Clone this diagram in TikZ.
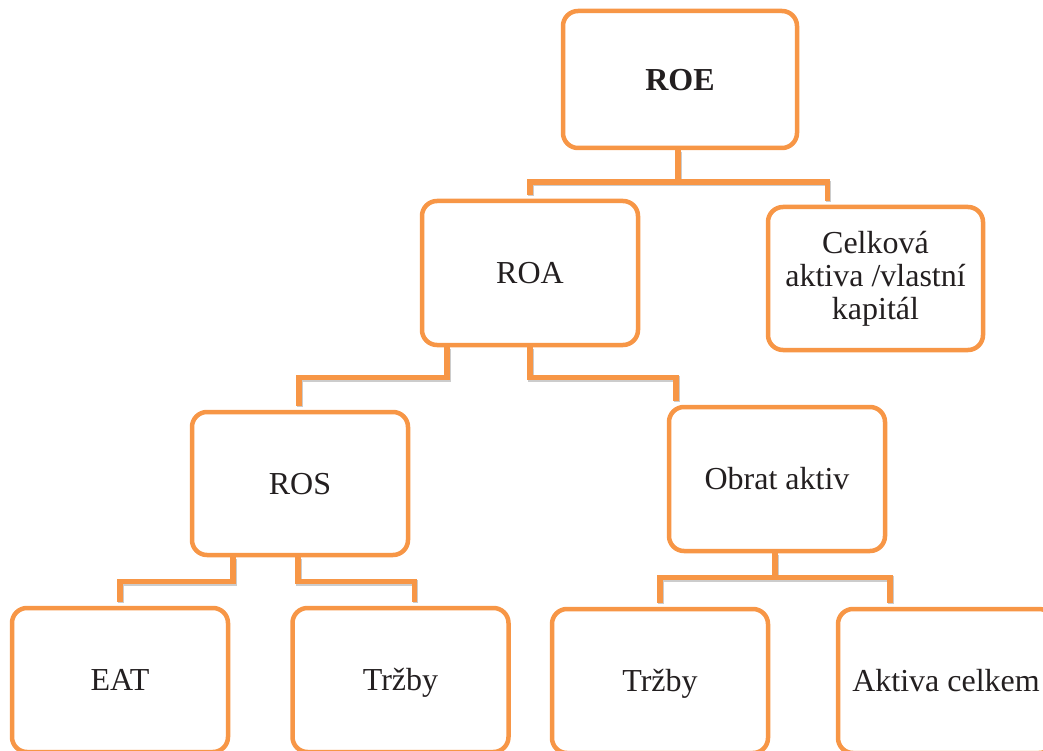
\documentclass[tikz,border=0pt]{standalone}
\usepackage{fontspec}
\setmainfont{Liberation Serif}
\definecolor{orng}{HTML}{F79646}
\definecolor{txt}{HTML}{231F20}
\begin{document}
\begin{tikzpicture}[x=1pt,y=-1pt,
  box/.style={draw=orng, line width=4.5pt, rounded corners=15pt, fill=white,
    minimum width=216pt, minimum height=144pt, align=center, text=txt,
    font=\fontsize{32}{33}\selectfont, inner sep=0pt},
  onebox/.style={box, text height=21.5pt, text depth=0pt},
  conn/.style={draw=orng, line width=5.5pt, shorten >=4pt,
    preaction={draw=black!20, line width=5.5pt, shorten >=4pt, transform canvas={xshift=1.2pt,yshift=-1.5pt}}}]
\useasboundingbox (0,0) rectangle (1043,751);
\clip (0,0) rectangle (1043,751);
\node[onebox, minimum width=234pt, minimum height=137pt] (ROE) at (680,79.5) {\textbf{ROE}};
\node[onebox] (ROA) at (530,273) {ROA};
\node[box, minimum width=215pt, minimum height=143pt] (Celk) at (875.5,278.5) {Celková\\aktiva /vlastní\\kapitál};
\node[onebox, minimum height=143pt] (ROS) at (300,483.5) {ROS};
\node[onebox] (Obrat) at (777,479) {Obrat aktiv};
\node[onebox] (EAT) at (120,680) {EAT};
\node[onebox] (Trzby1) at (400.5,680) {Tržby};
\node[onebox] (Trzby2) at (660,681) {Tržby};
\node[onebox] (Aktiva) at (946,681) {Aktiva celkem};
\draw[conn] ([xshift=-2pt]ROE.south) -- ++(0,32) -| (ROA.north);
\draw[conn] ([xshift=-2pt]ROE.south) -- ++(0,32) -| ([xshift=-48pt]Celk.north);
\draw[conn] ([xshift=-83pt]ROA.south) -- ++(0,30) -| ([xshift=-1pt]ROS.north);
\draw[conn] (ROA.south) -- ++(0,30) -| ([xshift=-101pt]Obrat.north);
\draw[conn] ([xshift=-67pt]ROS.south) -- ++(0,24) -| (EAT.north);
\draw[conn] ([xshift=-2pt]ROS.south) -- ++(0,24) -| ([xshift=14pt]Trzby1.north);
\draw[conn] ([xshift=-2pt]Obrat.south) -- ++(0,24) -| (Trzby2.north);
\draw[conn] ([xshift=-2pt]Obrat.south) -- ++(0,24) -| ([xshift=-56pt]Aktiva.north);
\end{tikzpicture}
\end{document}
